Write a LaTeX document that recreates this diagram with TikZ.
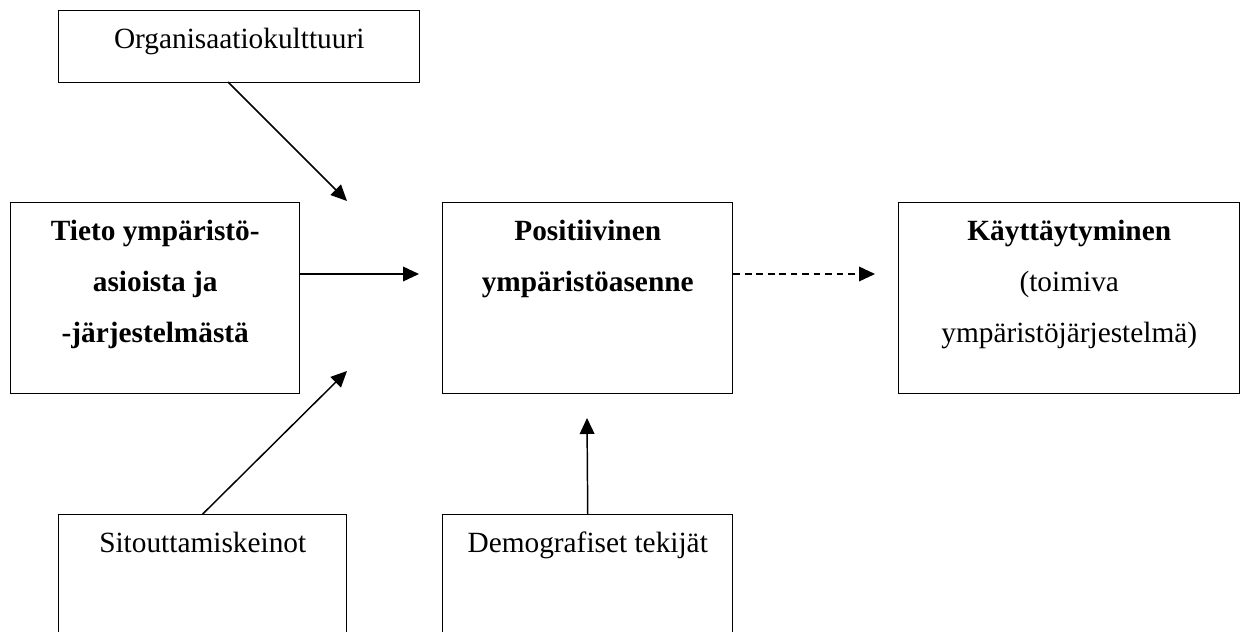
\documentclass[tikz,border=0pt]{standalone}
\usepackage{fontspec}
\setmainfont{Liberation Serif}
\usetikzlibrary{arrows.meta}
\begin{document}
\begin{tikzpicture}[x=0.75pt,y=-0.75pt,
  box/.style={draw, line width=1.1pt, rectangle, anchor=north west, inner sep=0pt},
  lbl/.style={anchor=base, inner sep=0pt, font=\fontsize{22}{38.4}\selectfont},
  arr/.style={line width=1.1pt, -{Triangle[length=12pt,width=11pt]}},
  dasharr/.style={arr, dash pattern=on 5pt off 3.6pt},
]
\useasboundingbox (0,0) rectangle (1240,632);
\clip (0,0) rectangle (1240,632);

% boxes
\node[box, minimum width=270.75pt, minimum height=54pt]    (org) at (58,10) {};
\node[box, minimum width=216.75pt, minimum height=143.25pt] (tieto) at (10,202) {};
\node[box, minimum width=217.5pt, minimum height=143.25pt]  (pos) at (442,202) {};
\node[box, minimum width=255.75pt, minimum height=143.25pt] (kay) at (898,202) {};
\node[box, minimum width=216pt, minimum height=120pt]       (sit) at (58,514) {};
\node[box, minimum width=217.5pt, minimum height=120pt]     (dem) at (442,514) {};

% texts
\node[lbl] (orgT) at ([yshift=-28.5pt]org.north) {Organisaatiokulttuuri};
\node[lbl] (tietoT) at ([yshift=-28.5pt]tieto.north)
  {\bfseries\begin{tabular}[t]{@{}c@{}}Tieto ympäristö-\\asioista ja\\-järjestelmästä\end{tabular}};
\node[lbl] (posT) at ([yshift=-28.5pt]pos.north)
  {\bfseries\begin{tabular}[t]{@{}c@{}}Positiivinen\\ympäristöasenne\end{tabular}};
\node[lbl] (kayT) at ([yshift=-28.5pt]kay.north)
  {\begin{tabular}[t]{@{}c@{}}\textbf{Käyttäytyminen}\\(toimiva\\ympäristöjärjestelmä)\end{tabular}};
\node[lbl] (sitT) at ([yshift=-28.5pt]sit.north) {Sitouttamiskeinot};
\node[lbl] (demT) at ([yshift=-28.5pt]dem.north) {Demografiset tekijät};

% free arrow ends
\coordinate (orgStart) at (228,82);
\coordinate (tipTop) at (347,201);
\coordinate (tipMid) at (419,274);
\coordinate (tipLow) at (347,371);
\coordinate (tipKay) at (875,274);
\coordinate (tipDem) at (587,418);

% connectors
\draw[arr] (orgStart) -- (tipTop);
\draw[arr] (tieto.east |- tipMid) -- (tipMid);
\draw[arr] (sit.north) -- (tipLow);
\draw[dasharr] (pos.east |- tipKay) -- (tipKay);
\draw[arr] (dem.north) -- (tipDem);
\end{tikzpicture}
\end{document}
